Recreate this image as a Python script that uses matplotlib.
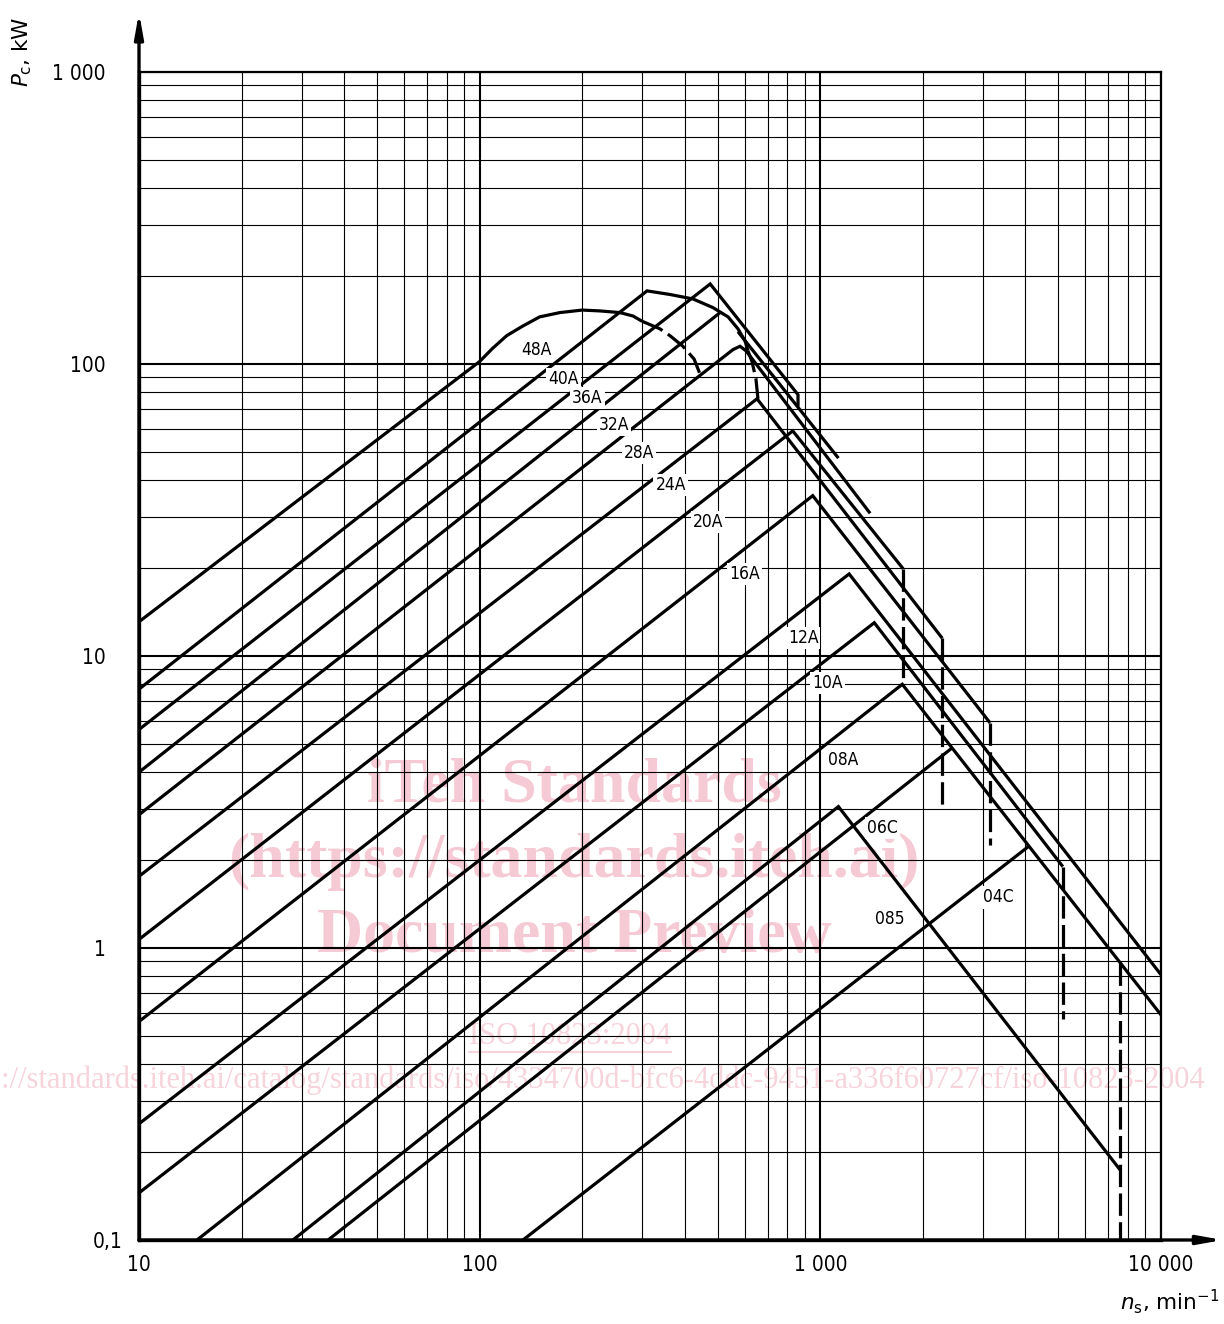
import numpy as np
import matplotlib.pyplot as plt
from matplotlib.transforms import ScaledTranslation
from matplotlib.lines import Line2D

# speed n in min^-1, power P in kW

# 48A : rising line + galling curve, dashed tail
n_48A = [10, 100, 109, 120, 134, 150, 172, 200, 225, 258, 282, 300]
p_48A = [13.1, 102, 113, 125, 135, 145, 150, 153, 152, 150, 146, 140]
n_48A_d = [300, 338, 362, 395, 426, 449]
p_48A_d = [140, 132, 125, 115, 104, 89]

# 40A
n_40A = [10, 310, 362, 423, 484, 536, 573, 601, 613]
p_40A = [7.7, 178, 173, 167, 156, 145, 132, 120, 111]
n_40A_d = [613, 630, 647, 656]
p_40A_d = [111, 102, 89, 76]
n_40A_f = [573, 1130]
p_40A_f = [129, 47.6]

# 36A
n_36A = [10, 475, 860, 860]
p_36A = [5.6, 188, 78.5, 71.5]

# 32A (ends under the 40A curve)
n_32A = [10, 508]
p_32A = [4.0, 150]

# 28A
n_28A = [10, 554, 581, 605, 1400]
p_28A = [2.86, 112, 115, 111, 30.8]

n_24A = [10, 652, 2280]
p_24A = [1.76, 76, 11.5]

n_20A = [10, 830, 1750]
p_20A = [1.07, 59, 19.9]

n_16A = [10, 950, 3150]
p_16A = [0.56, 35.4, 5.9]

n_12A = [10, 1215, 10000]
p_12A = [0.25, 19.1, 0.81]

n_10A = [10, 1440, 5150]
p_10A = [0.145, 13.0, 1.9]

# 08A falling line also carries the 06C and 04C tops
n_08A = [14.8, 1740, 10000]
p_08A = [0.1, 8.0, 0.59]
n_06C = [35.9, 2440]
p_06C = [0.1, 4.85]
n_04C = [134, 4070]
p_04C = [0.1, 2.22]
n_085 = [28.3, 1130, 7580]
p_085 = [0.1, 3.05, 0.174]

# dashed speed limits
vmax_n = [2280, 1750, 3150, 5150, 7580]
vmax_top = [11.5, 19.9, 5.9, 1.9, 0.89]
vmax_bot = [3.1, 8.0, 2.25, 0.57, 0.1]

chain_names = ['48A', '40A', '36A', '32A', '28A', '24A', '20A', '16A',
               '12A', '10A', '08A', '06C', '085', '04C']
label_n = [147, 176, 207, 248, 294, 364, 468, 600, 890, 1050, 1170, 1520, 1600, 3340]
label_p = [112, 89, 76.7, 62, 49.5, 38.6, 28.7, 19.1, 11.5, 8.07, 4.4, 2.58, 1.26, 1.49]

xtick_vals = [10, 100, 1000, 10000]
xtick_txt = ['10', '100', '1 000', '10 000']
ytick_vals = [0.1, 1, 10, 100, 1000]
ytick_txt = ['0,1', '1', '10', '100', '1 000']

plt.rcParams['font.family'] = ['DejaVu Sans']

W, H = 1224, 1324
fig = plt.figure(figsize=(W / 100, H / 100), dpi=100)
ax = fig.add_axes([139 / W, 1 - 1240 / H, (1161 - 139) / W, (1240 - 72) / H])
ax.set_xscale('log')
ax.set_yscale('log')
ax.set_xlim(10, 10000)
ax.set_ylim(0.1, 1000)

ax.grid(which='major', color='k', lw=1.5)
ax.grid(which='minor', color='k', lw=0.8)
ax.tick_params(which='both', length=0)
ax.xaxis.set_minor_formatter(plt.NullFormatter())
ax.yaxis.set_minor_formatter(plt.NullFormatter())

ax.set_xticks(xtick_vals)
ax.set_xticklabels(xtick_txt, fontsize=15, fontstretch='condensed')
ax.set_yticks(ytick_vals)
ax.set_yticklabels(ytick_txt, fontsize=15, fontstretch='condensed')
ax.tick_params(axis='x', pad=11)
ax.tick_params(axis='y', pad=24)
lab01 = ax.get_yticklabels()[0]
lab01.set_transform(lab01.get_transform() + ScaledTranslation(0.17, 0, fig.dpi_scale_trans))

for s in ['left', 'bottom']:
    ax.spines[s].set_linewidth(2.4)
for s in ['top', 'right']:
    ax.spines[s].set_linewidth(1.6)

# axis arrows
ax.annotate('', xy=(10, 1600), xytext=(10, 0.1),
            arrowprops=dict(arrowstyle='-|>,head_length=0.9,head_width=0.16', lw=2.4,
                            color='k', shrinkA=0, shrinkB=0, mutation_scale=16),
            annotation_clip=False)
ax.annotate('', xy=(15200, 0.1), xytext=(10, 0.1),
            arrowprops=dict(arrowstyle='-|>,head_length=0.9,head_width=0.16', lw=2.4,
                            color='k', shrinkA=0, shrinkB=0, mutation_scale=16),
            annotation_clip=False)

lw = 2.3
dash = (0, (7, 2))
kw = dict(color='k', lw=lw, solid_joinstyle='miter', solid_capstyle='butt', zorder=3)
kwd = dict(color='k', lw=lw, ls=dash, dash_capstyle='butt', zorder=3)

for n, p in [(n_48A, p_48A), (n_40A, p_40A), (n_40A_f, p_40A_f), (n_36A, p_36A),
             (n_32A, p_32A), (n_28A, p_28A), (n_24A, p_24A), (n_20A, p_20A),
             (n_16A, p_16A), (n_12A, p_12A), (n_10A, p_10A), (n_08A, p_08A),
             (n_06C, p_06C), (n_04C, p_04C), (n_085, p_085)]:
    ax.plot(n, p, **kw)
ax.plot(n_48A_d, p_48A_d, **kwd)
ax.plot(n_40A_d, p_40A_d, **kwd)
for n, a, b in zip(vmax_n, vmax_top, vmax_bot):
    ax.plot([n, n], [a, b], **kwd)

for name, n, p in zip(chain_names, label_n, label_p):
    ax.text(n, p, name, ha='center', va='center', fontsize=12.5, fontstretch='condensed',
            zorder=5, bbox=dict(facecolor='white', edgecolor='none', pad=1.5))

# axis titles
fig.text(22 / W, 1 - 52 / H, r'$P_\mathrm{c}$, kW', rotation=90, ha='center', va='center', fontsize=15.5)
fig.text(1170 / W, 1 - 1302 / H, r'$n_\mathrm{s}$, min$^{-1}$', ha='center', va='center', fontsize=15.5)

# website watermark
wm = '#f5cad4'
for txt, yy in [('iTeh Standards', 787), ('(https://standards.iteh.ai)', 862), ('Document Preview', 937)]:
    ax.text(574 / W, 1 - yy / H, txt, transform=fig.transFigure, ha='center', va='center',
            fontsize=46, fontweight='bold', family='Liberation Serif', color=wm, zorder=0.2,
            clip_on=False)
iso = ax.text(570 / W, 1 - 1037 / H, 'ISO 10823:2004', transform=fig.transFigure, ha='center',
              va='center', fontsize=22, family='Liberation Serif', color='#f7d3dc', zorder=0.2,
              clip_on=False)
ax.text(1205 / W, 1 - 1080 / H,
        'https://standards.iteh.ai/catalog/standards/iso/4334700d-bfc6-4ddc-9451-a336f60727cf/iso-10823-2004',
        transform=fig.transFigure, ha='right', va='center', fontsize=22, family='Liberation Serif',
        color='#f7d3dc', zorder=0.2, clip_on=False)
fig.canvas.draw()
bb = iso.get_window_extent().transformed(fig.transFigure.inverted())
ax.add_line(Line2D([bb.x0, bb.x1], [bb.y0, bb.y0], transform=fig.transFigure, color='#f7d3dc',
                   lw=1.5, zorder=0.2, clip_on=False))

fig.savefig('out.png', dpi=100)
